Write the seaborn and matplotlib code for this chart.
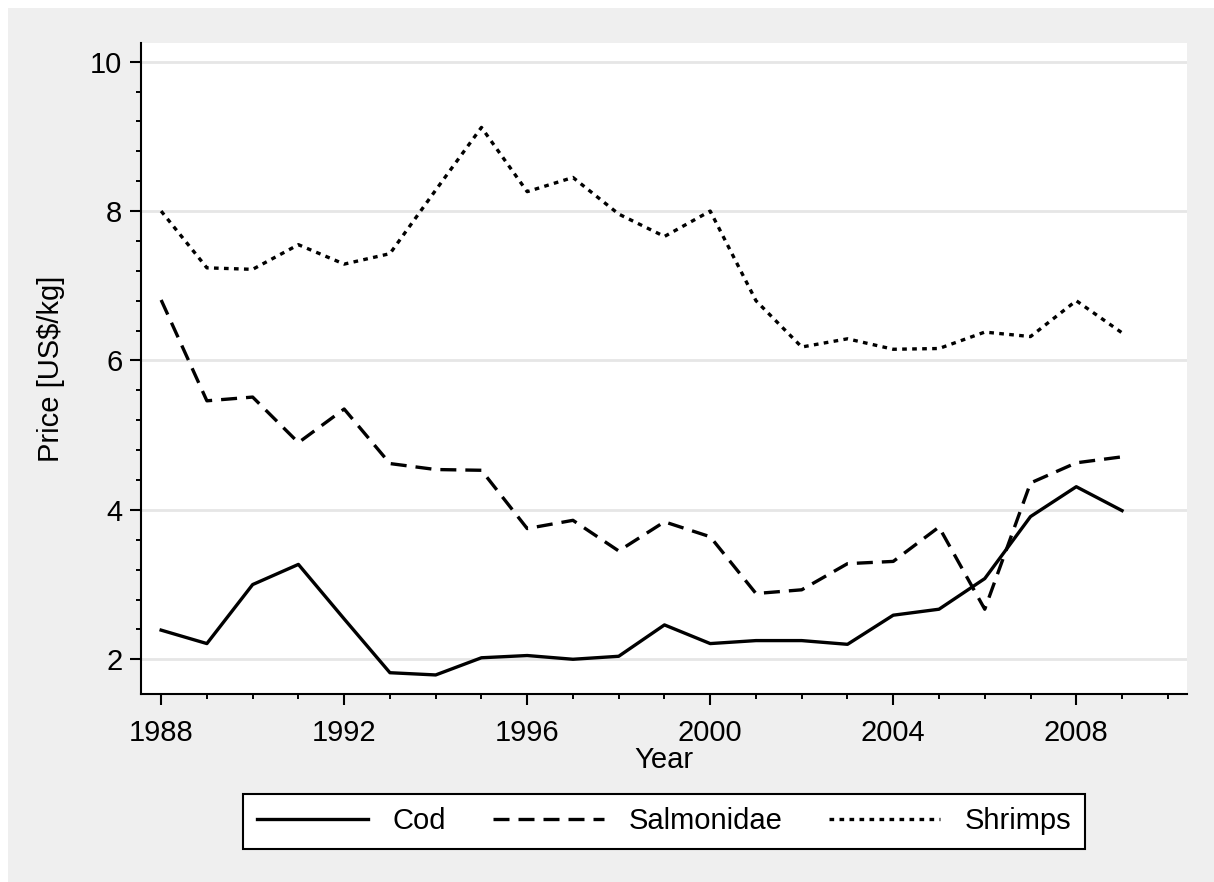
import numpy as np
import pandas as pd
import matplotlib
matplotlib.use("Agg")
import matplotlib.pyplot as plt
from matplotlib.patches import Rectangle
from matplotlib.ticker import FixedLocator, MultipleLocator
import seaborn as sns

# values
years = list(range(1988, 2010))
cod = [2.39, 2.21, 3.00, 3.27, 2.54, 1.82, 1.79, 2.02, 2.05, 2.00, 2.04, 2.46,
       2.21, 2.25, 2.25, 2.20, 2.59, 2.67, 3.08, 3.91, 4.31, 3.99]
salmonidae = [6.81, 5.46, 5.51, 4.90, 5.35, 4.62, 4.54, 4.53, 3.75, 3.86, 3.45, 3.84,
              3.64, 2.88, 2.93, 3.28, 3.31, 3.77, 2.67, 4.36, 4.63, 4.71]
shrimps = [8.00, 7.24, 7.22, 7.55, 7.29, 7.43, 8.28, 9.12, 8.26, 8.45, 7.96, 7.66,
           8.00, 6.80, 6.18, 6.29, 6.15, 6.16, 6.38, 6.32, 6.80, 6.37]
species = ["Cod", "Salmonidae", "Shrimps"]
x_major = [1988, 1992, 1996, 2000, 2004, 2008]
y_major = [2, 4, 6, 8, 10]

df = pd.DataFrame({
    "Year": years * 3,
    "Price": cod + salmonidae + shrimps,
    "Species": np.repeat(species, len(years)),
})

plt.rcParams["font.family"] = ["Liberation Sans", "DejaVu Sans"]
FS = 21
LW = 2.4

fig = plt.figure(figsize=(12.14, 8.82), dpi=100, facecolor="#efefef")
ax = fig.add_axes([141 / 1214, (882 - 694) / 882, (1187 - 141) / 1214, (694 - 43) / 882])
ax.set_facecolor("white")

# thin white strip along top and left edge of the screenshot
fig.add_artist(Rectangle((0, 1 - 8 / 882), 1, 8 / 882, transform=fig.transFigure,
                         color="white", lw=0, zorder=-1))
fig.add_artist(Rectangle((0, 0), 8 / 1214, 1, transform=fig.transFigure,
                         color="white", lw=0, zorder=-1))

sns.lineplot(data=df, x="Year", y="Price", hue="Species", style="Species",
             palette=["black"] * 3,
             dashes={"Cod": "", "Salmonidae": (4.8, 2.7), "Shrimps": (1.4, 1.6)},
             linewidth=LW, ax=ax)

ax.set_xlim(1987.56, 2010.42)
ax.set_ylim(1.535, 10.25)
ax.xaxis.set_major_locator(FixedLocator(x_major))
ax.xaxis.set_minor_locator(MultipleLocator(1))
ax.yaxis.set_major_locator(FixedLocator(y_major))
ax.yaxis.set_minor_locator(FixedLocator(np.arange(2.0, 10.0, 0.4)))

ax.yaxis.grid(True, which="major", color="#e6e6e6", lw=2)
ax.xaxis.grid(False)
ax.set_axisbelow(True)

for side in ["top", "right"]:
    ax.spines[side].set_visible(False)
for side in ["left", "bottom"]:
    ax.spines[side].set_linewidth(1.5)
    ax.spines[side].set_color("black")

ax.tick_params(which="major", length=8, width=1.5, labelsize=FS, colors="black")
ax.tick_params(which="minor", length=3.3, width=1.4, colors="black")
ax.tick_params(axis="x", which="major", pad=10)
ax.tick_params(axis="y", which="major", pad=5.5)

ax.set_xlabel("Year", fontsize=FS)
ax.set_ylabel(r"Price [US\$/kg]", fontsize=FS)
ax.xaxis.set_label_coords(0.5, -0.0803)
ax.yaxis.set_label_coords(-0.0727, 0.5)

old = ax.get_legend()
handles = old.legend_handles
labels = [t.get_text() for t in old.get_texts()]
old.remove()
for h in handles:
    h.set_linewidth(LW)
    h.set_color("black")

leg = ax.legend(handles, labels, loc="upper center", bbox_to_anchor=(0.5, -0.1536),
                ncol=3, fontsize=FS, handlelength=3.8, handletextpad=0.85,
                columnspacing=1.6, borderpad=0.46, borderaxespad=0,
                frameon=True, fancybox=False, framealpha=1)
leg.get_frame().set_edgecolor("black")
leg.get_frame().set_linewidth(1.5)
leg.get_frame().set_facecolor("white")

fig.savefig("out.png", dpi=100, facecolor=fig.get_facecolor())
